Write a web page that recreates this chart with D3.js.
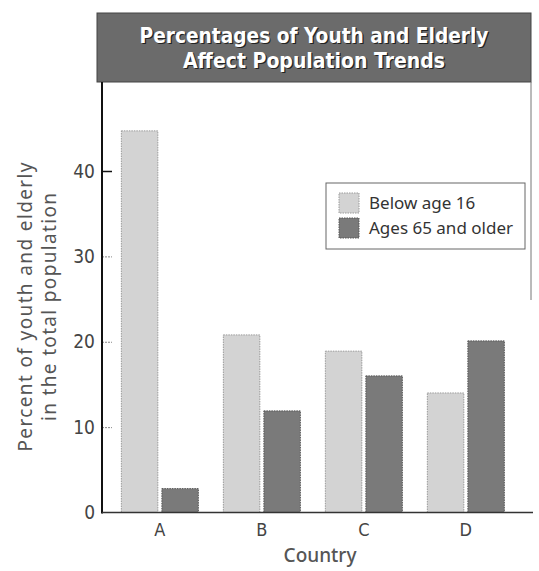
<!DOCTYPE html>
<html>
<head>
<meta charset="utf-8">
<script src="https://cdn.jsdelivr.net/npm/d3@7"></script>
<style>
  html, body { margin: 0; padding: 0; background: #fff; }
  svg { display: block; }
</style>
</head>
<body>
<svg id="chart" width="539" height="571"></svg>
<script>
const titleLines = ["Percentages of Youth and Elderly", "Affect Population Trends"];
const countries = ["A", "B", "C", "D"];
const seriesNames = ["Below age 16", "Ages 65 and older"];
const below16 = [44.7, 20.8, 18.9, 14.0];
const over65 = [2.8, 11.9, 16.0, 20.1];
const yTicks = [0, 10, 20, 30, 40];
const yTitle = ["Percent of youth and elderly", "in the total population"];
const xTitle = "Country";

const svg = d3.select("#chart");
const font = "'Liberation Sans Narrow', 'DejaVu Sans Condensed', 'Noto Sans', sans-serif";

const plotLeft = 102, plotRight = 533, plotTop = 82, plotBottom = 512.5;

// Banner
svg.append("rect").attr("x", 97).attr("y", 13).attr("width", 434).attr("height", 69)
  .attr("fill", "#6b6b6b").attr("stroke", "#444").attr("stroke-width", 1);
const tl = svg.append("g");
titleLines.forEach((t, i) => {
  const w = i === 0 ? 349 : 262;
  tl.append("text").attr("x", 314 + 1.2).attr("y", 43 + i * 25 + 1.2)
    .attr("text-anchor", "middle").attr("font-family", "'DejaVu Sans Condensed', 'DejaVu Sans', sans-serif")
    .attr("font-weight", "bold").attr("font-size", 21).attr("fill", "#222")
    .attr("textLength", w).attr("lengthAdjust", "spacingAndGlyphs").text(t);
  tl.append("text").attr("x", 314).attr("y", 43 + i * 25)
    .attr("text-anchor", "middle").attr("font-family", "'DejaVu Sans Condensed', 'DejaVu Sans', sans-serif")
    .attr("font-weight", "bold").attr("font-size", 21).attr("fill", "#fff")
    .attr("textLength", w).attr("lengthAdjust", "spacingAndGlyphs").text(t);
});

// Scales
const x0 = d3.scaleBand().domain(countries).range([103, 522.7]).paddingInner(0.245).paddingOuter(0.18);
const x1 = d3.scaleBand().domain(seriesNames).range([0, x0.bandwidth()]).paddingInner(0.1);
const y = d3.scaleLinear().domain([0, 40]).range([plotBottom, 171]);
const color = d3.scaleOrdinal().domain(seriesNames).range(["#d3d3d3", "#7a7a7a"]);
const strokeC = d3.scaleOrdinal().domain(seriesNames).range(["#9a9a9a", "#555"]);

// right frame line
svg.append("line").attr("x1", 531).attr("x2", 531).attr("y1", 82).attr("y2", 300)
  .attr("stroke", "#777").attr("stroke-width", 1);

// Bars
const data = countries.map((c, i) => ({ c, vals: [below16[i], over65[i]] }));
const groups = svg.append("g").selectAll("g").data(data).join("g")
  .attr("transform", d => `translate(${x0(d.c)},0)`);
groups.selectAll("rect").data(d => d.vals.map((v, j) => ({ s: seriesNames[j], v })))
  .join("rect")
  .attr("x", d => x1(d.s)).attr("width", x1.bandwidth())
  .attr("y", d => y(d.v)).attr("height", d => y(0) - y(d.v))
  .attr("fill", d => color(d.s)).attr("stroke", d => strokeC(d.s))
  .attr("stroke-width", 1).attr("stroke-dasharray", "1.5,1");

// Y axis
const yAxis = d3.axisLeft(y).tickValues(yTicks).tickSize(-10).tickPadding(7).tickFormat(d3.format("d"));
const yg = svg.append("g").attr("transform", `translate(${plotLeft},0)`).call(yAxis);
yg.select(".domain").remove();
yg.selectAll(".tick line").attr("stroke", (d) => d === 40 ? "#111" : "#888")
  .attr("stroke-width", d => d === 40 ? 1.5 : 1)
  .attr("stroke-dasharray", d => d === 40 ? null : "2,1");
yg.selectAll(".tick").filter(d => d === 0).select("line").remove();
yg.selectAll(".tick text").attr("font-family", font).attr("font-size", 19).attr("fill", "#444");
svg.append("line").attr("x1", plotLeft).attr("x2", plotLeft).attr("y1", plotTop).attr("y2", plotBottom + 1)
  .attr("stroke", "#111").attr("stroke-width", 2);

// X axis
const xAxis = d3.axisBottom(x0).tickSize(0).tickPadding(11);
const xg = svg.append("g").attr("transform", `translate(0,${plotBottom})`).call(xAxis);
xg.select(".domain").remove();
xg.selectAll(".tick text").attr("font-family", font).attr("font-size", 18).attr("fill", "#444");
svg.append("line").attr("x1", plotLeft).attr("x2", plotRight).attr("y1", plotBottom).attr("y2", plotBottom)
  .attr("stroke", "#333").attr("stroke-width", 1.5);

// Axis titles
const yTitleLen = [289, 228];
yTitle.forEach((t, i) => {
  svg.append("text").attr("transform", `translate(${32 + i * 24},307) rotate(-90)`)
    .attr("text-anchor", "middle").attr("font-family", "'Noto Sans', 'Open Sans', sans-serif")
    .attr("font-size", 19).attr("fill", "#555")
    .attr("textLength", yTitleLen[i]).attr("lengthAdjust", "spacing").text(t);
});
svg.append("text").attr("x", 320).attr("y", 562).attr("text-anchor", "middle")
  .attr("font-family", "'Noto Sans', 'Open Sans', sans-serif").attr("font-weight", 500)
  .attr("font-size", 19).attr("fill", "#555").text(xTitle);

// Legend
const lg = svg.append("g");
lg.append("rect").attr("x", 326).attr("y", 183).attr("width", 199).attr("height", 66)
  .attr("fill", "#fff").attr("stroke", "#666").attr("stroke-width", 1);
seriesNames.forEach((s, i) => {
  lg.append("rect").attr("x", 339).attr("y", 193 + i * 25).attr("width", 20).attr("height", 20)
    .attr("fill", color(s)).attr("stroke", strokeC(s)).attr("stroke-dasharray", "1.5,1");
  lg.append("text").attr("x", 369).attr("y", 209 + i * 25)
    .attr("font-family", "'Noto Sans', 'Open Sans', sans-serif").attr("font-size", 17)
    .attr("fill", "#333").text(s);
});
</script>
</body>
</html>
